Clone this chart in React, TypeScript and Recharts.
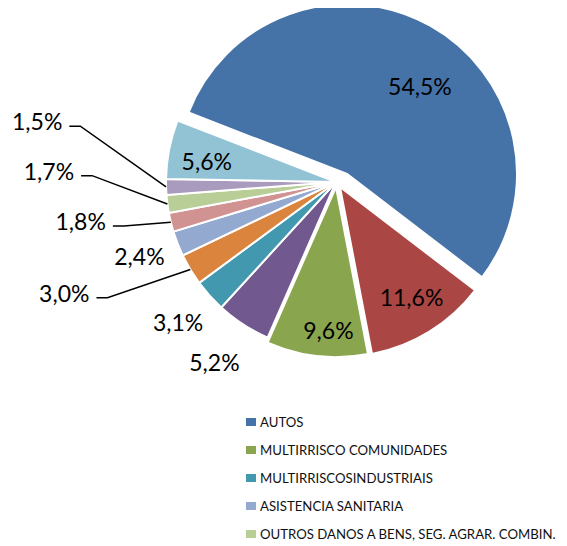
import { PieChart, Pie, Cell, Legend } from "recharts"

// ── Data ──────────────────────────────────────────────────────
const CATEGORIES = [
  "AUTOS",
  "Série 2",
  "MULTIRRISCO COMUNIDADES",
  "Série 4",
  "MULTIRRISCOSINDUSTRIAIS",
  "Série 6",
  "ASISTENCIA SANITARIA",
  "Série 8",
  "OUTROS DANOS A BENS, SEG. AGRAR. COMBIN.",
  "Série 10",
  "Série 11",
]
const SHARES = [54.5, 11.6, 9.6, 5.2, 3.1, 3.0, 2.4, 1.8, 1.7, 1.5, 5.6]
// Excel only had room for every other legend entry
const LEGEND_SHOWN = [0, 2, 4, 6, 8]

const COLOURS = [
  "#4572A7", "#AA4643", "#89A54E", "#71588F", "#4198AF", "#DB843D",
  "#93A9CF", "#D19392", "#B9CD96", "#A99BBD", "#92C3D4",
]

// ── Layout ────────────────────────────────────────────────────
const W = 559
const H = 538
const CX = 328
const CY = 174
const R = 170
const START = 158.8 // AUTOS starts a bit above 9 o'clock, then clockwise

// exploded slices: pixel shift of their centre
const EXPLODE: Record<number, { dx: number; dy: number }> = {
  0: { dx: 11, dy: -8 },
  1: { dx: 4, dy: 5 },
  2: { dx: 0, dy: 5 },
}

// label placement: radius factor, angle shift (clockwise deg), leader line
const LABEL_PLACE = [
  { r: 0.67, da: 10.5, leader: false },
  { r: 0.77, da: -1.4, leader: false },
  { r: 0.84, da: -3.4, leader: false },
  { r: 1.276, da: 1, leader: false },
  { r: 1.24, da: 0.5, leader: false },
  { r: 1.59, da: 6.8, leader: true },
  { r: 1.235, da: 0.7, leader: false },
  { r: 1.373, da: 4.1, leader: true },
  { r: 1.542, da: 9.9, leader: true },
  { r: 1.649, da: 14.2, leader: true },
  { r: 0.77, da: -1.9, leader: false },
]

const FONT = "Lato, 'Open Sans', sans-serif"

const data = CATEGORIES.map((name, i) => ({ name, value: SHARES[i] }))

const fmt = (v: number) => `${v.toFixed(1).replace(".", ",")}%`

function renderLabel(p: any) {
  const i = p.index
  const pl = LABEL_PLACE[i]
  const ex = EXPLODE[i] ?? { dx: 0, dy: 0 }
  const RAD = Math.PI / 180
  const a = (p.midAngle - pl.da) * RAD
  const r = p.outerRadius * pl.r
  const x = p.cx + ex.dx + r * Math.cos(a)
  const y = p.cy + ex.dy - r * Math.sin(a)
  if (!pl.leader) {
    return (
      <text
        key={`l${i}`}
        x={x}
        y={y}
        textAnchor="middle"
        dominantBaseline="central"
        fontFamily={FONT}
        fontSize={23}
        fill="#000"
      >
        {fmt(p.value)}
      </text>
    )
  }
  const m = p.midAngle * RAD
  const ex2 = p.cx + p.outerRadius * Math.cos(m)
  const ey2 = p.cy - p.outerRadius * Math.sin(m)
  return (
    <g key={`l${i}`}>
      <polyline
        points={`${x + 7},${y + 5} ${x + 18},${y + 5} ${ex2},${ey2}`}
        fill="none"
        stroke="#000"
        strokeWidth={1.5}
      />
      <text
        x={x}
        y={y}
        textAnchor="end"
        dominantBaseline="central"
        fontFamily={FONT}
        fontSize={23}
        fill="#000"
      >
        {fmt(p.value)}
      </text>
    </g>
  )
}

function LegendBox() {
  return (
    <div style={{ fontFamily: FONT, fontSize: 13.2, color: "#111" }}>
      {LEGEND_SHOWN.map((i) => (
        <div key={i} style={{ display: "flex", alignItems: "center", height: 28, whiteSpace: "nowrap" }}>
          <span style={{ display: "inline-block", width: 10, height: 8, background: COLOURS[i], marginRight: 4 }} />
          <span>{CATEGORIES[i]}</span>
        </div>
      ))}
    </div>
  )
}

export default function App() {
  const exploded = Object.keys(EXPLODE).map(Number)
  return (
    <PieChart width={W} height={H} margin={{ top: 0, right: 0, bottom: 0, left: 0 }}>
      {exploded.map((k) => (
        <Pie
          key={k}
          data={data}
          dataKey="value"
          nameKey="name"
          cx={CX + EXPLODE[k].dx}
          cy={CY + EXPLODE[k].dy}
          outerRadius={R}
          startAngle={START}
          endAngle={START - 360}
          isAnimationActive={false}
          labelLine={false}
          legendType="none"
        >
          {data.map((_, i) => (
            <Cell
              key={i}
              fill={i === k ? COLOURS[i] : "none"}
              stroke={i === k ? "#fff" : "none"}
              strokeWidth={2}
            />
          ))}
        </Pie>
      ))}
      <Pie
        data={data}
        dataKey="value"
        nameKey="name"
        cx={CX}
        cy={CY}
        outerRadius={R}
        startAngle={START}
        endAngle={START - 360}
        isAnimationActive={false}
        labelLine={false}
        label={renderLabel}
      >
        {data.map((_, i) => (
          <Cell
            key={i}
            fill={EXPLODE[i] ? "none" : COLOURS[i]}
            stroke={EXPLODE[i] ? "none" : "#fff"}
            strokeWidth={2}
          />
        ))}
      </Pie>
      <Legend
        layout="vertical"
        align="right"
        verticalAlign="bottom"
        content={() => <LegendBox />}
        wrapperStyle={{ left: 238, top: 400, width: 321 }}
      />
    </PieChart>
  )
}
